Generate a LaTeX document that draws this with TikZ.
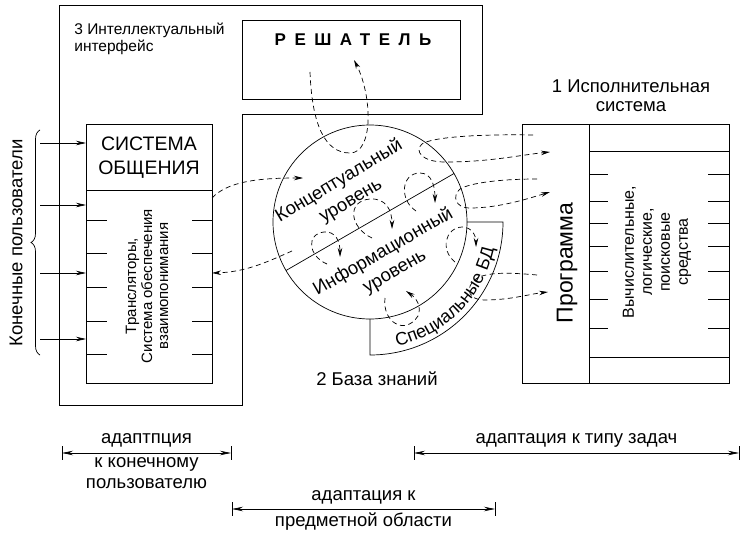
\documentclass[tikz,border=0pt]{standalone}
\usepackage{fontspec}
\setmainfont{Liberation Sans}
\newfontfamily\solverfont[LetterSpace=50]{Liberation Sans}
\usepackage{tikz}
\usetikzlibrary{calc, arrows.meta, decorations.pathreplacing, decorations.text}

\newcommand{\lblfont}{\fontsize{18.5}{21}\selectfont}
\newcommand{\introfont}{\fontsize{15.5}{17}\selectfont}
\newcommand{\capsfont}{\fontsize{19.5}{24}\selectfont}
\newcommand{\prgfont}{\fontsize{23}{25}\selectfont}
\newcommand{\smallfont}{\fontsize{15}{16}\selectfont}
\newcommand{\toolfont}{\fontsize{16}{18}\selectfont}

\tikzstyle{box}   = [rectangle, draw=black, line width=0.7pt, inner sep=0pt, outer sep=0pt]
\tikzstyle{lbl}   = [inner sep=0pt, align=center, font=\lblfont]
\tikzstyle{flow}  = [line width=0.7pt, dash pattern=on 5pt off 3.5pt, -{Stealth[length=9pt, width=4.5pt]}]
\tikzstyle{arrow} = [line width=0.7pt, -{Stealth[length=10pt, width=4.5pt]}]
\tikzstyle{dim}   = [line width=0.7pt, {Stealth[length=11pt, width=4.5pt]}-{Stealth[length=11pt, width=4.5pt]}]

\begin{document}
\begin{tikzpicture}[x=1pt, y=-1pt, line width=0.7pt]
    \useasboundingbox (0,0) rectangle (753,535);

    % 3 intelligent interface
    \draw (59,5) -- (482,5) -- (482,114) -- (242,114) -- (242,405) -- (59,405) -- cycle;
    \node (ii) [lbl, font=\introfont, anchor=north west, align=left] at (74,23) {3 Интеллектуальный\\интерфейс};
    \node (slv) [box, minimum width=218pt, minimum height=79pt] at (351,59.5) {};
    \node (sol) [inner sep=0pt, font=\fontsize{17}{19}\solverfont\bfseries] at (353,40) {РЕШАТЕЛЬ};

    \node (com) [box, minimum width=126pt, minimum height=259pt] at (149,253.5) {};
    \draw (86,190) -- (212,190);
    \node (cs) [lbl, font=\capsfont] at (149,158) {СИСТЕМА\\ОБЩЕНИЯ};
    \node (tr) [lbl, font=\smallfont, rotate=90] at (147,286) {Трансляторы,\\Система обеспечения\\взаимопонимания};
    \foreach \y in {220,253,287,321,354} {
        \draw (86,\y) -- (107,\y);
        \draw (192,\y) -- (212,\y);
    }

    % end users
    \node (usr) [lbl, rotate=90] at (16,243) {Конечные пользователи};
    \draw [decorate, decoration={brace, amplitude=9pt}] (40,355) -- (40,130);
    \foreach \y [count=\i] in {143,205,273,339} {
        \coordinate (u\i) at (40,\y);
        \draw [arrow] (u\i) -- (u\i -| com.west);
    }

    % 2 knowledge base
    \node (kb) [circle, draw, line width=0.7pt, minimum size=194pt, inner sep=0pt, outer sep=0pt] at (370,222) {};
    \draw (kb.210) -- (kb.30);
    \draw (kb.east) -- (503,222) arc[start angle=0, end angle=90, radius=133] -- (kb.south);
    \path [decorate, decoration={text along path, text align=center,
        text={|\fontsize{18}{20}\selectfont|Специальные БД}}]
        (kb.center) ++(84:127) arc[start angle=84, end angle=6, radius=127];
    \node (conc) [lbl, font=\fontsize{18.5}{23}\selectfont, rotate=31] at (345,191) {Концептуальный\\уровень};
    \node (info) [lbl, font=\fontsize{18.5}{23}\selectfont, rotate=30] at (389,262) {Информационный\\уровень};
    \node (kbl) [lbl] at (377,379) {2 База знаний};

    % 1 executive system
    \node (exe) [box, minimum width=207pt, minimum height=259pt] at (625.5,253.5) {};
    \draw (589,124) -- (589,383);
    \draw (589,151) -- (729,151);
    \draw (589,357) -- (729,357);
    \foreach \y in {174,201,223,246,271,299,328} {
        \draw (589,\y) -- (608,\y);
        \draw (708,\y) -- (729,\y);
    }
    \node (prg) [lbl, font=\prgfont, rotate=90] at (567,263) {Программа};
    \node (tls) [lbl, font=\toolfont, rotate=90] at (657,252) {Вычислительные,\\логические,\\поисковые\\средства};
    \node (exl) [lbl, font=\fontsize{18.5}{19}\selectfont] at (631,96) {1 Исполнительная\\система};

    % flows
    \coordinate (r1) at (310,72);   \coordinate (r2) at (354,60);
    \coordinate (c1) at (212,198);  \coordinate (c2) at (303,178);
    \coordinate (c3) at (292,251);  \coordinate (c4) at (212,273);
    \draw [flow] (r1) .. controls (312,125) and (325,153) .. (350,153) .. controls (374,153) and (372,95) .. (r2);
    \draw [flow] (c1) .. controls (228,181) and (260,178) .. (c2);
    \draw [flow] (c3) .. controls (265,263) and (245,272) .. (c4);

    \draw [flow] (327,264) .. controls (308,256) and (306,234) .. (324,232) .. controls (336,231) and (340,242) .. (340,257);
    \draw [flow] (372,238) .. controls (350,228) and (346,201) .. (370,199) .. controls (386,198) and (392,210) .. (392,229);
    \draw [flow] (416,211) .. controls (399,200) and (401,173) .. (420,173) .. controls (432,173) and (435,187) .. (435,203);
    \draw [flow] (455,262) .. controls (440,250) and (445,228) .. (462,227) .. controls (472,227) and (476,236) .. (476,247);
    \draw [flow] (385,298) .. controls (382,322) and (405,336) .. (418,316) .. controls (422,306) and (416,298) .. (406,291);

    \coordinate (p1) at (533,135);  \coordinate (q1) at (550,152);
    \coordinate (p2) at (537,179);  \coordinate (q2) at (550,192);
    \coordinate (p3) at (537,275);  \coordinate (q3) at (548,292);
    \draw [flow] (p1) .. controls (480,134) and (432,137) .. (422,144) .. controls (414,151) and (422,162) .. (445,162) .. controls (490,162) and (520,155) .. (q1);
    \draw [flow] (p2) .. controls (500,179) and (470,183) .. (460,189) .. controls (452,196) and (455,208) .. (470,208) .. controls (500,208) and (530,198) .. (q2);
    \draw [flow] (p3) .. controls (515,273) and (495,272) .. (482,276) .. controls (466,281) and (463,300) .. (485,300) .. controls (510,300) and (530,294) .. (q3);

    % adaptation ranges
    \coordinate (a1) at (62,453);   \coordinate (a2) at (231,453);
    \coordinate (b1) at (414,453);  \coordinate (b2) at (739,453);
    \coordinate (d1) at (232,509);  \coordinate (d2) at (495,509);
    \draw [dim] (a1) -- node (ua) [lbl, above=5pt] {адаптпция} node (la) [lbl, below=4pt] {к конечному\\пользователю} (a2);
    \draw [dim] (b1) -- node (ub) [lbl, above=5pt] {адаптация к типу задач} (b2);
    \draw [dim] (d1) -- node (ud) [lbl, above=4pt] {адаптация к} node (ld) [lbl, below=3pt] {предметной области} (d2);
    \foreach \p in {a1,a2,b1,b2,d1,d2}
        \draw ($(\p)+(0,-7)$) -- ($(\p)+(0,7)$);
\end{tikzpicture}
\end{document}
